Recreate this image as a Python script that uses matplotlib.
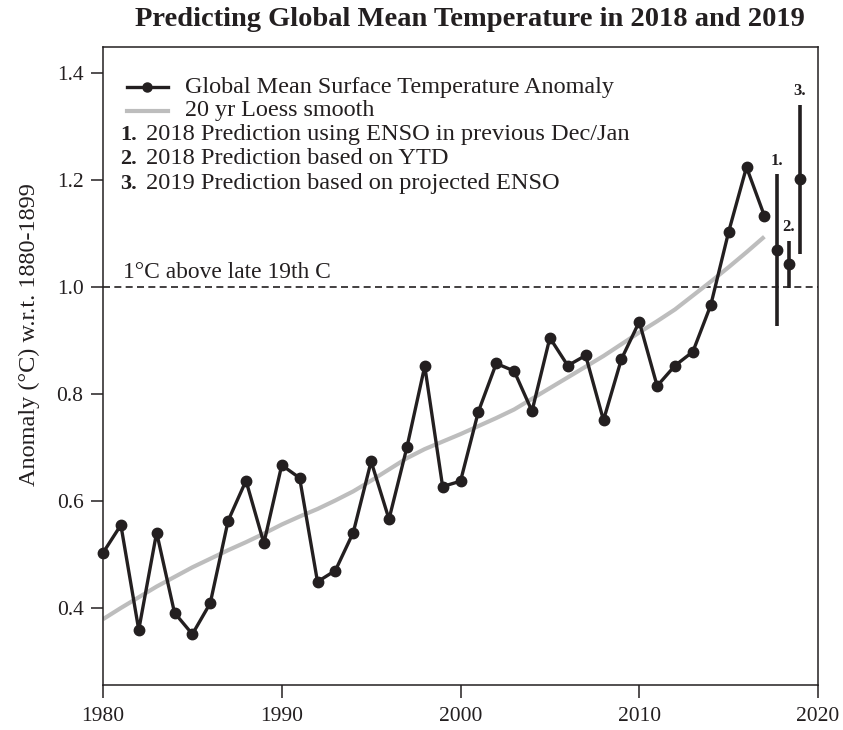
import matplotlib
matplotlib.use("Agg")
import matplotlib.pyplot as plt
from matplotlib.lines import Line2D

# ---------------- data ----------------
years = list(range(1980, 2018))
anomaly = [0.503, 0.555, 0.359, 0.541, 0.391, 0.351, 0.409, 0.563, 0.638, 0.521,
           0.667, 0.643, 0.449, 0.470, 0.541, 0.674, 0.566, 0.700, 0.852, 0.627,
           0.637, 0.767, 0.857, 0.843, 0.768, 0.905, 0.853, 0.872, 0.751, 0.865,
           0.935, 0.815, 0.853, 0.879, 0.966, 1.103, 1.224, 1.133]
loess = [0.379, 0.400, 0.420, 0.440, 0.458, 0.476, 0.492, 0.508, 0.523, 0.539,
         0.556, 0.571, 0.585, 0.601, 0.618, 0.638, 0.659, 0.680, 0.697, 0.711,
         0.725, 0.740, 0.755, 0.771, 0.791, 0.811, 0.831, 0.851, 0.871, 0.893,
         0.915, 0.936, 0.958, 0.984, 1.010, 1.037, 1.065, 1.094]

pred_x = [2017.7, 2018.35, 2019.0]
pred_mid = [1.069, 1.043, 1.201]
pred_lo = [0.928, 0.999, 1.061]
pred_hi = [1.211, 1.086, 1.341]
pred_labels = ["1.", "2.", "3."]

legend_main = ["Global Mean Surface Temperature Anomaly", "20 yr Loess smooth"]
legend_nums = ["1.", "2.", "3."]
legend_pred = ["2018 Prediction using ENSO in previous Dec/Jan",
               "2018 Prediction based on YTD",
               "2019 Prediction based on projected ENSO"]

xticks = [1980, 1990, 2000, 2010, 2020]
yticks = [0.4, 0.6, 0.8, 1.0, 1.2, 1.4]
title = "Predicting Global Mean Temperature in 2018 and 2019"
ylabel = "Anomaly (°C) w.r.t. 1880-1899"
ref_text = "1°C above late 19th C"

# ---------------- style ----------------
BLACK = "#231f20"
GRAY = "#bdbdbd"
SERIF = ["Liberation Serif", "DejaVu Serif"]
plt.rcParams["font.family"] = SERIF

fig = plt.figure(figsize=(8.43, 7.30), dpi=100)
ax = fig.add_axes([103 / 843, 1 - 685 / 730, 715 / 843, 638 / 730])

ax.set_xlim(1980, 2020)
ax.set_ylim(0.256, 1.4486)

# reference line
ax.axhline(1.0, color=BLACK, lw=1.2, dashes=(4.2, 2.6), zorder=1)
ax.annotate(ref_text, xy=(0.028, 1.0), xycoords=("axes fraction", "data"),
            xytext=(0, 6.5), textcoords="offset points",
            ha="left", va="baseline", fontsize=16.9, color=BLACK)

# loess
ax.plot(years, loess, color=GRAY, lw=3.0, solid_capstyle="butt", zorder=2)
# observations
ax.plot(years, anomaly, color=BLACK, lw=2.4, marker="o", ms=7.5,
        markerfacecolor=BLACK, markeredgecolor=BLACK, zorder=3,
        clip_on=False)

# predictions
for x, m, lo, hi, lab in zip(pred_x, pred_mid, pred_lo, pred_hi, pred_labels):
    ax.plot([x, x], [lo, hi], color=BLACK, lw=2.6, solid_capstyle="butt", zorder=3)
    ax.plot([x], [m], marker="o", ms=7.5, color=BLACK, zorder=4)
    ax.annotate(lab, xy=(x, hi), xytext=(0, 4), textcoords="offset points",
                ha="center", va="bottom", fontsize=12, fontweight="bold",
                color=BLACK)

# axes styling
for s in ax.spines.values():
    s.set_linewidth(1.1)
    s.set_color(BLACK)
ax.set_xticks(xticks)
ax.set_xticklabels([str(t) for t in xticks])
ax.set_yticks(yticks)
ax.set_yticklabels([f"{t:.1f}" for t in yticks])
ax.tick_params(axis="both", direction="out", length=9, width=1.1, color=BLACK,
               labelsize=15.5, labelcolor=BLACK)
ax.tick_params(axis="x", pad=7)
ax.tick_params(axis="y", pad=5)
ax.set_ylabel(ylabel, fontsize=17.5, color=BLACK)
ax.yaxis.set_label_coords(-(103 - 40) / 715, (685 - 335) / 638)

# manual legend (axes fraction coordinates)
rows = [0.9373, 0.8997, 0.8621, 0.8245, 0.7853]
ax.add_line(Line2D([0.0336, 0.0909], [rows[0], rows[0]], transform=ax.transAxes,
                   color=BLACK, lw=2.4))
ax.add_line(Line2D([0.0622], [rows[0]], transform=ax.transAxes, marker="o",
                   ms=6.5, color=BLACK))
ax.add_line(Line2D([0.0336, 0.0909], [rows[1], rows[1]], transform=ax.transAxes,
                   color=GRAY, lw=3.0))
for r, lab in zip(rows[:2], legend_main):
    ax.text(0.1147, r, lab, transform=ax.transAxes, ha="left", va="center",
            fontsize=17.4, color=BLACK)
for r, n, lab in zip(rows[2:], legend_nums, legend_pred):
    ax.text(0.0476, r, n, transform=ax.transAxes, ha="right", va="center",
            fontsize=16, fontweight="bold", color=BLACK)
    ax.text(0.0601, r, lab, transform=ax.transAxes, ha="left", va="center",
            fontsize=17.6, color=BLACK)

fig.text(470 / 843, 1 - 20 / 730, title, ha="center", va="center",
         fontsize=20.5, fontweight="bold", color=BLACK)

fig.savefig("out.png", dpi=100)
